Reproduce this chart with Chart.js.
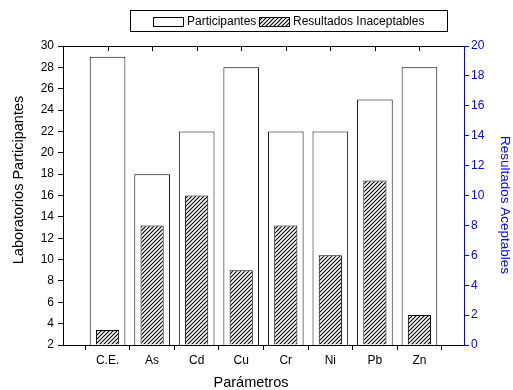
<!DOCTYPE html>
<html>
<head>
  <title>Participantes vs Resultados</title>
  <style>
    body { margin: 0; padding: 0; background: #fff; }
    #wrap { width: 513px; height: 390px; }
  </style>
</head>
<body>
  <div id="wrap"><canvas id="chart" width="513" height="390"></canvas></div>

  <script src="https://cdn.jsdelivr.net/npm/chart.js"></script>
  <script>
    // data
    const categories = ['C.E.', 'As', 'Cd', 'Cu', 'Cr', 'Ni', 'Pb', 'Zn'];
    const participantes = [29, 18, 22, 28, 22, 22, 25, 28];
    const inaceptables = [1, 8, 10, 5, 8, 6, 11, 2];
    const leftTicks = [2, 30, 2];   // min, max, step
    const rightTicks = [0, 20, 2];

    const font = 'Arial, "Liberation Sans", sans-serif';
    const blue = '#0000ff';

    // empty slot at each end so the bars sit inside like the original
    const labels = [''].concat(categories, ['']);
    const pad = arr => [null].concat(arr, [null]);

    function hatch() {
      const c = document.createElement('canvas');
      c.width = 4; c.height = 4;
      const g = c.getContext('2d');
      g.fillStyle = '#fff';
      g.fillRect(0, 0, 4, 4);
      g.strokeStyle = '#000';
      g.lineWidth = 1.1;
      g.beginPath();
      g.moveTo(0, 4); g.lineTo(4, 0);
      g.moveTo(-1, 1); g.lineTo(1, -1);
      g.moveTo(3, 5); g.lineTo(5, 3);
      g.stroke();
      return g.createPattern(c, 'repeat');
    }
    const hatchFill = hatch();

    function text(ctx, str, x, y, rot, size, color) {
      ctx.save();
      ctx.translate(x, y);
      ctx.rotate(rot);
      ctx.font = size + 'px ' + font;
      ctx.fillStyle = color;
      ctx.textAlign = 'center';
      ctx.textBaseline = 'middle';
      ctx.fillText(str, 0, 0);
      ctx.restore();
    }

    // top frame line with inward ticks, axis titles, boxed legend
    const extras = {
      id: 'extras',
      afterDatasetsDraw(chart) {
        const { ctx, chartArea: a, scales: { x } } = chart;
        ctx.save();
        ctx.strokeStyle = '#000';
        ctx.lineWidth = 1;
        ctx.beginPath();
        ctx.moveTo(a.left, a.top + 0.5);
        ctx.lineTo(a.right, a.top + 0.5);
        categories.forEach((c, i) => {
          const px = Math.round(x.getPixelForValue(i + 1)) + 0.5;
          ctx.moveTo(px, a.top);
          ctx.lineTo(px, a.top + 5);
        });
        ctx.stroke();
        ctx.restore();
      },
      afterDraw(chart) {
        const ctx = chart.ctx;
        text(ctx, 'Laboratorios Participantes', 19, 180, -Math.PI / 2, 14.5, '#000');
        text(ctx, 'Resultados Aceptables', 505, 205, Math.PI / 2, 13.5, blue);
        text(ctx, 'Parámetros', 251, 383, 0, 14.5, '#000');

        ctx.save();
        ctx.strokeStyle = '#000';
        ctx.lineWidth = 1;
        ctx.strokeRect(130.5, 10.5, 317, 21);
        ctx.fillStyle = '#fff';
        ctx.fillRect(153.5, 17.5, 30, 9);
        ctx.strokeRect(153.5, 17.5, 30, 9);
        ctx.fillStyle = hatchFill;
        ctx.fillRect(259.5, 17.5, 30, 9);
        ctx.strokeRect(259.5, 17.5, 30, 9);
        ctx.fillStyle = '#000';
        ctx.font = '12px ' + font;
        ctx.textBaseline = 'middle';
        ctx.fillText('Participantes', 187, 22);
        ctx.fillText('Resultados Inaceptables', 293, 22);
        ctx.restore();
      }
    };

    const tickGrid = color => ({
      display: true,
      drawOnChartArea: false,
      drawTicks: true,
      tickLength: 5,
      color: color
    });

    new Chart(document.getElementById('chart'), {
      type: 'bar',
      data: {
        labels: labels,
        datasets: [
          {
            label: 'Participantes',
            data: pad(participantes),
            yAxisID: 'y',
            backgroundColor: '#fff',
            borderColor: '#000',
            borderWidth: 1,
            grouped: false,
            barPercentage: 0.8,
            categoryPercentage: 1,
            order: 2
          },
          {
            label: 'Resultados Inaceptables',
            data: pad(inaceptables),
            yAxisID: 'y2',
            backgroundColor: hatchFill,
            borderColor: '#000',
            borderWidth: 1,
            grouped: false,
            barPercentage: 0.52,
            categoryPercentage: 1,
            order: 1
          }
        ]
      },
      options: {
        responsive: false,
        animation: false,
        layout: { padding: { top: 46, left: 0, right: 0, bottom: 0 } },
        plugins: {
          legend: { display: false },
          tooltip: { enabled: false }
        },
        scales: {
          x: {
            type: 'category',
            offset: false,
            grid: tickGrid('#000'),
            border: { color: '#000', width: 1 },
            ticks: { color: '#000', font: { family: font, size: 12 }, autoSkip: false, maxRotation: 0, padding: 3 },
            afterFit: s => { s.height = 45; }
          },
          y: {
            position: 'left',
            min: leftTicks[0],
            max: leftTicks[1],
            grid: tickGrid('#000'),
            border: { color: '#000', width: 1 },
            ticks: { stepSize: leftTicks[2], color: '#000', font: { family: font, size: 12 }, padding: 4 },
            afterFit: s => { s.width = 63; }
          },
          y2: {
            position: 'right',
            min: rightTicks[0],
            max: rightTicks[1],
            grid: tickGrid(blue),
            border: { color: blue, width: 1 },
            ticks: { stepSize: rightTicks[2], color: blue, font: { family: font, size: 12 }, padding: 2 },
            afterFit: s => { s.width = 49; }
          }
        }
      },
      plugins: [extras]
    });
  </script>
</body>
</html>
